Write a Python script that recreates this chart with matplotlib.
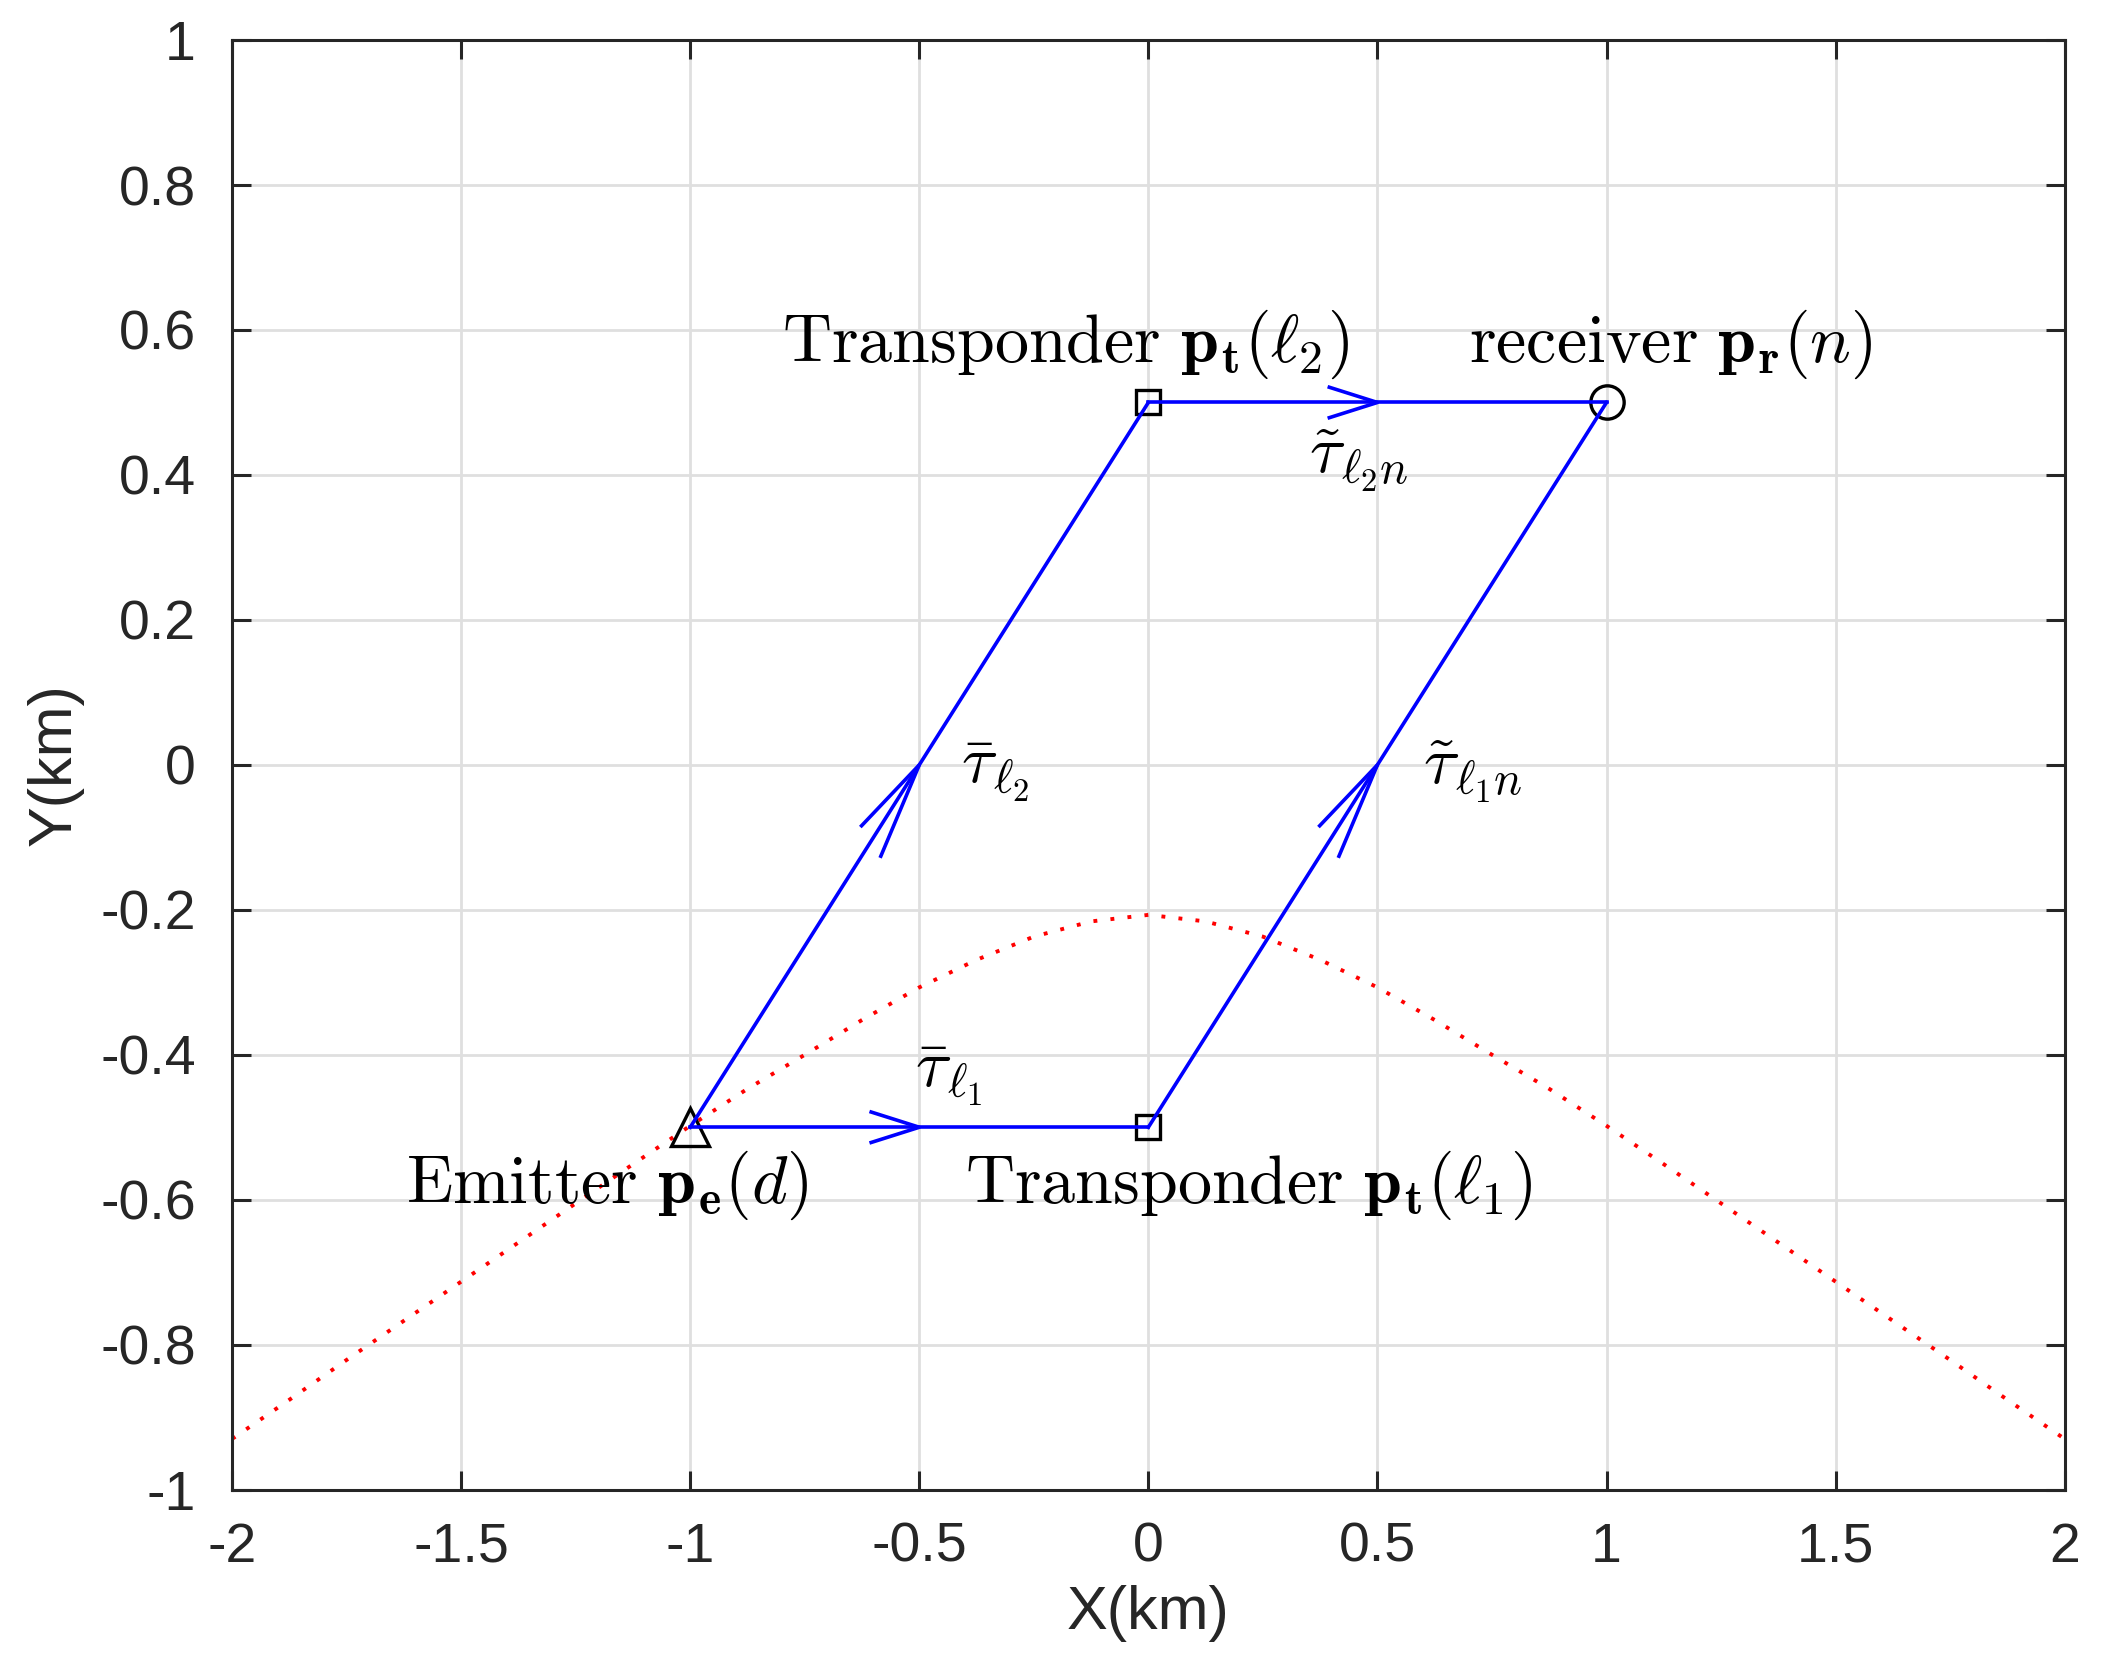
import matplotlib
matplotlib.use('Agg')
import matplotlib.pyplot as plt

plt.rcParams['font.family'] = ['Liberation Sans', 'DejaVu Sans']
plt.rcParams['mathtext.fontset'] = 'cm'
plt.rcParams['axes.unicode_minus'] = False

# node positions (km)
emitter_xy = (-1.0, -0.5)
transponder1_xy = (0.0, -0.5)
transponder2_xy = (0.0, 0.5)
receiver_xy = (1.0, 0.5)

# signal paths: start -> end
links = [
    (emitter_xy, transponder1_xy),
    (emitter_xy, transponder2_xy),
    (transponder1_xy, receiver_xy),
    (transponder2_xy, receiver_xy),
]

# red dotted curve
curve_x = [-2.0, -1.875, -1.75, -1.625, -1.5, -1.375, -1.25, -1.125, -1.0,
           -0.875, -0.75, -0.625, -0.5, -0.375, -0.25, -0.125, 0.0,
           0.125, 0.25, 0.375, 0.5, 0.625, 0.75, 0.875, 1.0,
           1.125, 1.25, 1.375, 1.5, 1.625, 1.75, 1.875, 2.0]
curve_y = [-0.930, -0.876, -0.821, -0.767, -0.713, -0.659, -0.605, -0.551, -0.498,
           -0.447, -0.400, -0.352, -0.307, -0.269, -0.237, -0.216, -0.207,
           -0.216, -0.237, -0.269, -0.307, -0.352, -0.400, -0.447, -0.498,
           -0.551, -0.605, -0.659, -0.713, -0.767, -0.821, -0.876, -0.930]

# labels: (x, y, text)
labels = [
    (-0.8, 0.58, r'$\mathrm{Transponder}\ \mathbf{p}_{\mathbf{t}}(\ell_2)$'),
    (0.7, 0.58, r'$\mathrm{receiver}\ \mathbf{p}_{\mathbf{r}}(n)$'),
    (-1.62, -0.58, r'$\mathrm{Emitter}\ \mathbf{p}_{\mathbf{e}}(d)$'),
    (-0.4, -0.58, r'$\mathrm{Transponder}\ \mathbf{p}_{\mathbf{t}}(\ell_1)$'),
]
delay_labels = [
    (-0.51, -0.43, r'$\bar{\tau}_{\ell_1}$'),
    (-0.41, -0.01, r'$\bar{\tau}_{\ell_2}$'),
    (0.6, -0.01, r'$\tilde{\tau}_{\ell_1 n}$'),
    (0.35, 0.42, r'$\tilde{\tau}_{\ell_2 n}$'),
]

xticks = [-2, -1.5, -1, -0.5, 0, 0.5, 1, 1.5, 2]
xtick_labels = ['-2', '-1.5', '-1', '-0.5', '0', '0.5', '1', '1.5', '2']
yticks = [-1, -0.8, -0.6, -0.4, -0.2, 0, 0.2, 0.4, 0.6, 0.8, 1]
ytick_labels = ['-1', '-0.8', '-0.6', '-0.4', '-0.2', '0', '0.2', '0.4', '0.6', '0.8', '1']

# quiver style arrow heads (data units)
head_alpha = 0.105
head_beta = 0.2

dark = '#262626'

fig = plt.figure(figsize=(10.55, 8.35), dpi=200)
ax = fig.add_axes([0.110, 0.108, 0.9785 - 0.110, 0.976 - 0.108])

ax.plot(curve_x, curve_y, color='red', lw=1.4, linestyle=(0, (1, 3.4)), zorder=2)

ax.plot(*emitter_xy, marker='^', ms=13.5, mfc='none', mec='k', mew=1.2, zorder=3)
ax.plot(*transponder1_xy, marker='s', ms=8.5, mfc='none', mec='k', mew=1.2, zorder=3)
ax.plot(*transponder2_xy, marker='s', ms=8.5, mfc='none', mec='k', mew=1.2, zorder=3)
ax.plot(*receiver_xy, marker='o', ms=12, mfc='none', mec='k', mew=1.2, zorder=3)

for (x0, y0), (x1, y1) in links:
    ax.plot([x0, x1], [y0, y1], color='blue', lw=1.3, zorder=4)
    dx, dy = x1 - x0, y1 - y0
    tx, ty = x0 + dx / 2, y0 + dy / 2
    hx = [tx - head_alpha * (dx + head_beta * dy), tx,
          tx - head_alpha * (dx - head_beta * dy)]
    hy = [ty - head_alpha * (dy - head_beta * dx), ty,
          ty - head_alpha * (dy + head_beta * dx)]
    ax.plot(hx, hy, color='blue', lw=1.3, zorder=4)

for x, y, s in labels:
    ax.text(x, y, s, fontsize=24.5, ha='left', va='center', color='k', zorder=5)
for x, y, s in delay_labels:
    ax.text(x, y, s, fontsize=24, ha='left', va='center', color='k', zorder=5)

ax.set_xlim(-2, 2)
ax.set_ylim(-1, 1)
ax.set_xticks(xticks)
ax.set_xticklabels(xtick_labels)
ax.set_yticks(yticks)
ax.set_yticklabels(ytick_labels)
ax.grid(True, color='#dfdfdf', lw=1.0)
ax.set_axisbelow(True)
ax.tick_params(direction='in', length=7, width=1.1, colors=dark, labelsize=20,
               top=True, right=True)
ax.tick_params(axis='x', pad=11.5)
ax.tick_params(axis='y', pad=13)
for sp in ax.spines.values():
    sp.set_color(dark)
    sp.set_linewidth(1.1)
ax.set_xlabel('X(km)', fontsize=22, color=dark, labelpad=4)
ax.set_ylabel('Y(km)', fontsize=22, color=dark, labelpad=6)

fig.savefig('out.png', dpi=200)
